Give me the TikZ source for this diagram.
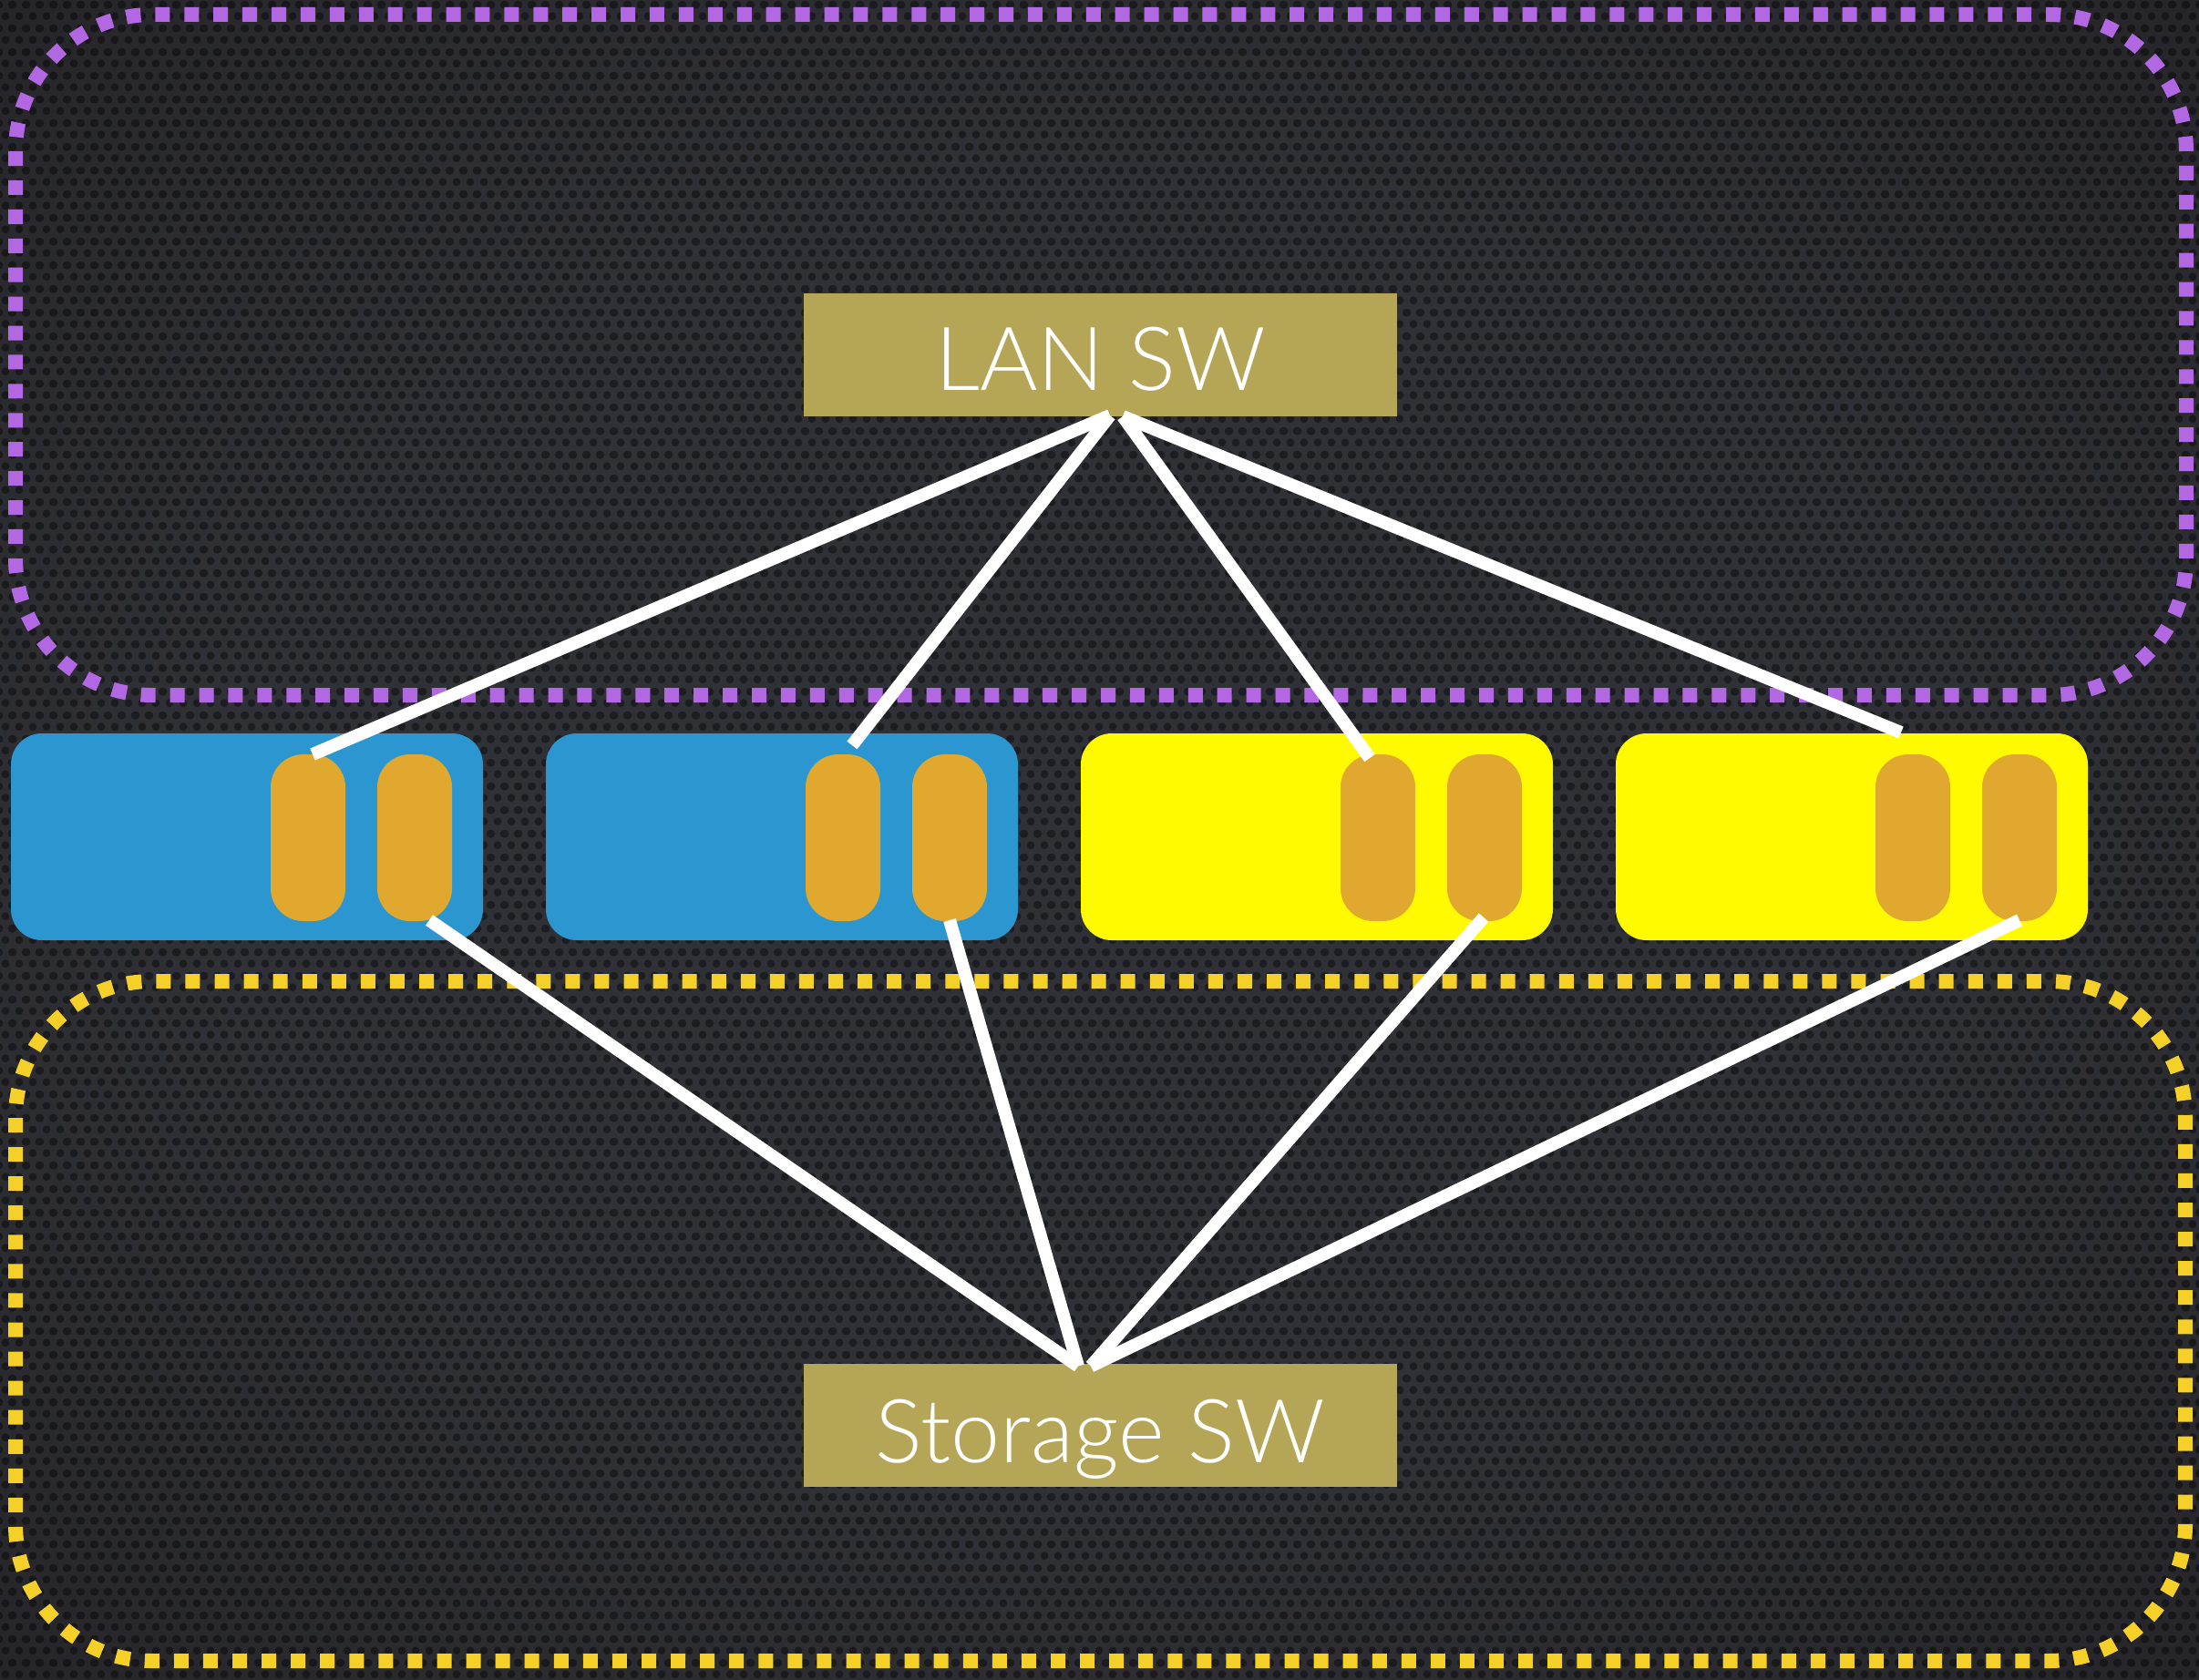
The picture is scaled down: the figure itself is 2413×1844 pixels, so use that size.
\documentclass[tikz,border=0pt]{standalone}
\usepackage{fontspec}
\newfontfamily\lightfont{Lato Light}
\usetikzlibrary{patterns.meta,calc}

\definecolor{bgA}{RGB}{48,49,54}
\definecolor{bgB}{RGB}{30,29,33}
\definecolor{bgC}{RGB}{15,11,13}
\definecolor{swfill}{RGB}{180,166,86}
\definecolor{srvblue}{RGB}{43,150,208}
\definecolor{srvyellow}{RGB}{255,250,0}
\definecolor{portfill}{RGB}{224,168,46}
\definecolor{lanpurple}{RGB}{178,104,226}
\definecolor{stoyellow}{RGB}{245,208,40}

\pgfdeclareradialshading{vignette}{\pgfpoint{0bp}{0bp}}{color(0bp)=(bgA); color(20bp)=(bgA); color(46bp)=(bgB); color(71bp)=(bgC)}

\pgfdeclarepattern{
  name=hexholes,
  type=uncolored,
  bottom left={\pgfpoint{0pt}{0pt}},
  top right={\pgfpoint{15pt}{26pt}},
  tile size={\pgfpoint{15pt}{26pt}},
  code={
    \pgfpathcircle{\pgfpoint{7.5pt}{6.5pt}}{4.6pt}
    \pgfpathcircle{\pgfpoint{0pt}{19.5pt}}{4.6pt}
    \pgfpathcircle{\pgfpoint{15pt}{19.5pt}}{4.6pt}
    \pgfusepath{fill}
  }
}

\tikzset{
  zone/.style={line width=16pt, rounded corners=150pt},
  server/.style={rectangle, rounded corners=34pt, minimum width=518pt, minimum height=227pt, inner sep=0pt, outer sep=0pt},
  port/.style={rectangle, rounded corners=36pt, fill=portfill, minimum width=82pt, minimum height=183pt, inner sep=0pt, outer sep=0pt},
  switchbox/.style={rectangle, fill=swfill, minimum width=651pt, minimum height=135pt, inner sep=0pt, outer sep=0pt},
  swtext/.style={font=\lightfont\fontsize{97}{110}\selectfont, text=white, inner sep=0pt, anchor=base},
  link/.style={white, line width=14pt}
}

\begin{document}
\begin{tikzpicture}[x=1pt,y=-1pt]
\useasboundingbox (0,0) rectangle (2413,1844);
% background
\shade[shading=vignette] (0,0) rectangle (2413,1844);
\fill[pattern=hexholes, pattern color=black, opacity=0.4] (0,0) rectangle (2413,1844);

% zones
\draw[zone, lanpurple, dash pattern=on 16pt off 15.92pt] (17,16) rectangle (2399,763);
\draw[zone, stoyellow, dash pattern=on 16pt off 16.07pt] (17,1077) rectangle (2398,1823);

% servers
\node[server, fill=srvblue]   (s1) at (271,918.5) {};
\node[server, fill=srvblue]   (s2) at (858,918.5) {};
\node[server, fill=srvyellow] (s3) at (1445,918.5) {};
\node[server, fill=srvyellow] (s4) at (2032,918.5) {};

% ports
\foreach \i in {1,2,3,4}{
  \node[port] (pa\i) at ($(s\i.center)+(67,1)$) {};
  \node[port] (pb\i) at ($(s\i.center)+(184,1)$) {};
}

% switches
\node[switchbox] (lan) at (1207.5,389.5) {};
\node[switchbox] (sto) at (1207.5,1564) {};
\node[swtext] (lanT) at ($(lan.center)+(0,39)$) {LAN SW};
\node[swtext] (stoT) at ($(sto.center)+(0,41)$) {Storage SW};

% connector end points
\coordinate (lanL) at ($(lan.south)+(10.5,-1)$);
\coordinate (lanR) at ($(lan.south)+(24.5,0)$);
\coordinate (stoL) at ($(sto.north)+(-24.5,3)$);
\coordinate (stoR) at ($(sto.north)+(-10.5,3)$);
\coordinate (e1) at ($(pa1.north)+(5,0)$);
\coordinate (e2) at ($(pa2.north)+(10,-10)$);
\coordinate (e3) at ($(pa3.north)+(-9,4)$);
\coordinate (e4) at ($(pa4.north)+(-13,-24)$);
\coordinate (f1) at ($(pb1.south)+(16,-1)$);
\coordinate (f2) at ($(pb2.south)+(0,-1)$);
\coordinate (f3) at ($(pb3.south)+(-1,-4)$);
\coordinate (f4) at ($(pb4.south)+(0,-1)$);

% links
\draw[link] (lanL) -- (e1);
\draw[link] (lanL) -- (e2);
\draw[link] (lanR) -- (e3);
\draw[link] (lanR) -- (e4);
\draw[link] (f1) -- (stoL);
\draw[link] (f2) -- (stoL);
\draw[link] (f3) -- (stoR);
\draw[link] (f4) -- (stoR);
\end{tikzpicture}
\end{document}
